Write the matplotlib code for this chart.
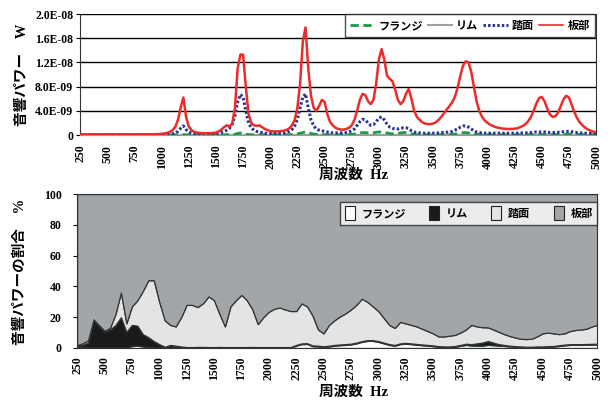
import numpy as np
import matplotlib
matplotlib.use("Agg")
import matplotlib.pyplot as plt
from matplotlib.patches import Patch
from matplotlib.lines import Line2D

plt.rcParams['font.family'] = ['Liberation Serif', 'Noto Sans CJK JP', 'DejaVu Sans']

# ---- sound power spectrum, 25 Hz steps, unit 1E-09 W ----
freq = np.arange(250, 5001, 25)

plate_w = [
    0.1, 0.1, 0.1, 0.1, 0.1, 0.1, 0.1, 0.1, 0.1, 0.1,          # 250
    0.1, 0.1, 0.1, 0.1, 0.1, 0.1, 0.1, 0.1, 0.1, 0.1,          # 500
    0.1, 0.1, 0.1, 0.1, 0.1, 0.1, 0.12, 0.12, 0.15, 0.15,      # 750
    0.2, 0.25, 0.35, 0.5, 0.8, 1.3, 2.5, 4.5, 6.2, 3.0,        # 1000
    1.4, 0.8, 0.5, 0.4, 0.35, 0.3, 0.3, 0.3, 0.3, 0.35,        # 1250
    0.4, 0.6, 0.9, 1.3, 1.6, 1.4, 1.9, 4.5, 11.0, 13.3,        # 1500
    13.3, 8.0, 3.5, 2.0, 1.6, 1.5, 1.6, 1.3, 1.0, 0.8,         # 1750
    0.65, 0.6, 0.6, 0.6, 0.65, 0.7, 0.85, 1.1, 1.6, 2.5,       # 2000
    4.5, 8.5, 15.5, 17.8, 11.0, 6.5, 4.5, 4.0, 4.8, 5.8,       # 2250
    5.5, 3.5, 2.2, 1.6, 1.2, 1.0, 0.9, 0.9, 1.0, 1.2,          # 2500
    1.6, 2.5, 4.0, 5.8, 6.8, 6.6, 5.6, 5.1, 5.8, 8.5,          # 2750
    12.5, 14.2, 12.5, 9.8, 9.3, 8.9, 7.5, 5.8, 5.1, 5.6,       # 3000
    6.8, 7.6, 6.0, 4.0, 3.0, 2.5, 2.1, 1.9, 1.8, 1.8,          # 3250
    1.9, 2.1, 2.5, 3.0, 3.6, 4.2, 4.8, 5.4, 6.3, 7.8,          # 3500
    9.8, 11.5, 12.2, 12.0, 10.5, 8.0, 5.5, 4.0, 3.0, 2.4,      # 3750
    2.0, 1.7, 1.5, 1.3, 1.2, 1.1, 1.05, 1.0, 1.0, 1.0,         # 4000
    1.05, 1.1, 1.3, 1.5, 1.8, 2.3, 3.0, 4.0, 5.2, 6.1,         # 4250
    6.3, 5.6, 4.4, 3.4, 3.0, 3.1, 3.7, 4.8, 5.9, 6.5,          # 4500
    6.2, 5.0, 3.8, 2.8, 2.1, 1.6, 1.2, 0.9, 0.7, 0.55,         # 4750
    0.45,                                                      # 5000
]

tread_w = [
    0.05, 0.05, 0.05, 0.05, 0.05, 0.05, 0.05, 0.05, 0.05, 0.05,
    0.05, 0.05, 0.05, 0.05, 0.05, 0.05, 0.05, 0.05, 0.05, 0.05,
    0.05, 0.05, 0.05, 0.05, 0.05, 0.05, 0.05, 0.05, 0.06, 0.07,
    0.08, 0.1, 0.12, 0.15, 0.2, 0.3, 0.6, 1.1, 1.5, 0.9,
    0.5, 0.3, 0.2, 0.15, 0.15, 0.15, 0.15, 0.15, 0.15, 0.15,
    0.2, 0.3, 0.45, 0.6, 0.8, 1.1, 1.8, 3.2, 5.5, 6.7,
    6.3, 4.0, 2.0, 1.2, 0.8, 0.6, 0.5, 0.4, 0.3, 0.25,
    0.25, 0.25, 0.25, 0.25, 0.25, 0.3, 0.4, 0.6, 0.9, 1.5,
    2.6, 4.5, 6.3, 6.8, 4.5, 2.5, 1.5, 1.0, 0.8, 0.7,
    0.6, 0.5, 0.4, 0.35, 0.35, 0.35, 0.35, 0.35, 0.4, 0.5,
    0.7, 1.0, 1.6, 2.2, 2.6, 2.5, 2.0, 1.6, 1.7, 2.2,
    2.8, 3.0, 2.5, 1.8, 1.3, 1.1, 1.0, 1.0, 1.1, 1.2,
    1.2, 1.0, 0.7, 0.5, 0.4, 0.35, 0.3, 0.3, 0.3, 0.3,
    0.3, 0.3, 0.35, 0.4, 0.4, 0.45, 0.5, 0.6, 0.8, 1.0,
    1.3, 1.5, 1.5, 1.3, 1.0, 0.7, 0.5, 0.4, 0.35, 0.3,
    0.3, 0.3, 0.3, 0.3, 0.3, 0.3, 0.3, 0.3, 0.3, 0.3,
    0.3, 0.3, 0.3, 0.35, 0.35, 0.4, 0.4, 0.45, 0.5, 0.5,
    0.5, 0.5, 0.45, 0.4, 0.4, 0.4, 0.45, 0.5, 0.55, 0.6,
    0.6, 0.55, 0.45, 0.4, 0.35, 0.3, 0.3, 0.25, 0.25, 0.2,
    0.2,
]

flange_w = [
    0.01, 0.01, 0.01, 0.01, 0.01, 0.01, 0.01, 0.01, 0.01, 0.01,
    0.01, 0.01, 0.01, 0.01, 0.01, 0.01, 0.01, 0.01, 0.01, 0.01,
    0.01, 0.01, 0.01, 0.01, 0.01, 0.01, 0.01, 0.01, 0.01, 0.01,
    0.01, 0.01, 0.01, 0.01, 0.02, 0.02, 0.03, 0.04, 0.05, 0.04,
    0.03, 0.02, 0.02, 0.02, 0.02, 0.02, 0.02, 0.02, 0.02, 0.02,
    0.02, 0.02, 0.03, 0.04, 0.05, 0.06, 0.08, 0.12, 0.25, 0.35,
    0.3, 0.15, 0.08, 0.05, 0.04, 0.03, 0.03, 0.03, 0.02, 0.02,
    0.02, 0.02, 0.02, 0.02, 0.02, 0.03, 0.04, 0.05, 0.08, 0.12,
    0.2, 0.3, 0.4, 0.5, 0.4, 0.25, 0.15, 0.1, 0.08, 0.06,
    0.05, 0.04, 0.03, 0.03, 0.03, 0.03, 0.03, 0.04, 0.05, 0.07,
    0.1, 0.15, 0.25, 0.35, 0.4, 0.4, 0.35, 0.3, 0.35, 0.45,
    0.5, 0.5, 0.45, 0.35, 0.25, 0.2, 0.2, 0.25, 0.35, 0.4,
    0.4, 0.3, 0.2, 0.1, 0.06, 0.05, 0.04, 0.03, 0.03, 0.03,
    0.03, 0.03, 0.03, 0.04, 0.05, 0.06, 0.08, 0.1, 0.15, 0.22,
    0.3, 0.38, 0.4, 0.35, 0.25, 0.15, 0.1, 0.07, 0.05, 0.04,
    0.03, 0.03, 0.03, 0.03, 0.03, 0.03, 0.03, 0.03, 0.03, 0.03,
    0.03, 0.03, 0.03, 0.03, 0.04, 0.04, 0.05, 0.06, 0.07, 0.08,
    0.08, 0.08, 0.07, 0.06, 0.06, 0.07, 0.08, 0.1, 0.12, 0.14,
    0.15, 0.13, 0.1, 0.08, 0.06, 0.05, 0.04, 0.04, 0.03, 0.03,
    0.03,
]

rim_w = [
    0.01, 0.01, 0.01, 0.02, 0.02, 0.02, 0.02, 0.02, 0.02, 0.02,
    0.02, 0.02, 0.02, 0.02, 0.02, 0.02, 0.02, 0.02, 0.02, 0.02,
    0.02, 0.02, 0.02, 0.02, 0.02, 0.02, 0.02, 0.01, 0.01, 0.01,
    0.01, 0.01, 0.01, 0.01, 0.01, 0.01, 0.01, 0.01, 0.01, 0.01,
    0.01, 0.01, 0.01, 0.01, 0.01, 0.01, 0.01, 0.01, 0.01, 0.01,
    0.01, 0.01, 0.01, 0.01, 0.01, 0.01, 0.01, 0.01, 0.01, 0.01,
    0.01, 0.01, 0.01, 0.01, 0.01, 0.01, 0.01, 0.01, 0.01, 0.01,
    0.01, 0.01, 0.01, 0.01, 0.01, 0.01, 0.01, 0.01, 0.01, 0.01,
    0.01, 0.01, 0.02, 0.02, 0.02, 0.01, 0.01, 0.01, 0.01, 0.01,
    0.01, 0.01, 0.01, 0.01, 0.01, 0.01, 0.01, 0.01, 0.01, 0.01,
    0.01, 0.01, 0.01, 0.01, 0.01, 0.01, 0.01, 0.01, 0.01, 0.01,
    0.01, 0.01, 0.01, 0.01, 0.01, 0.01, 0.01, 0.01, 0.01, 0.01,
    0.01, 0.01, 0.01, 0.01, 0.01, 0.01, 0.01, 0.01, 0.01, 0.01,
    0.01, 0.01, 0.01, 0.01, 0.01, 0.01, 0.01, 0.01, 0.01, 0.01,
    0.01, 0.01, 0.01, 0.01, 0.02, 0.02, 0.02, 0.02, 0.02, 0.02,
    0.02, 0.02, 0.01, 0.01, 0.01, 0.01, 0.01, 0.01, 0.01, 0.01,
    0.01, 0.01, 0.01, 0.01, 0.01, 0.01, 0.01, 0.01, 0.01, 0.01,
    0.01, 0.01, 0.01, 0.01, 0.01, 0.01, 0.01, 0.01, 0.01, 0.01,
    0.01, 0.01, 0.01, 0.01, 0.01, 0.01, 0.01, 0.01, 0.01, 0.01,
    0.01,
]

# ---- share of sound power, 50 Hz steps, % ----
freq_p = np.arange(250, 5001, 50)

flange_p = [
    0.5, 0.5, 0.5, 0.3, 0.3, 0.3, 0.3, 0.3, 0.3, 0.5,          # 250
    1.2, 1.5, 1.0, 0.5, 0.3, 0.3, 0.3, 0.5, 0.5, 0.3,          # 750
    0.3, 0.3, 0.3, 0.3, 0.3, 0.3, 0.3, 0.3, 0.3, 0.3,          # 1250
    0.3, 0.3, 0.3, 0.3, 0.3, 0.3, 0.3, 0.3, 0.3, 0.3,          # 1750
    1.5, 2.5, 2.6, 1.2, 1.0, 0.6, 1.0, 1.5, 1.8, 2.0,          # 2250
    2.3, 3.0, 4.0, 4.6, 4.6, 4.0, 3.0, 2.0, 1.5, 2.5,          # 2750
    2.8, 2.5, 2.1, 1.8, 1.5, 1.2, 0.8, 0.6, 0.6, 0.8,          # 3250
    1.4, 2.0, 1.6, 1.5, 1.5, 2.0, 1.8, 1.5, 1.3, 1.0,          # 3750
    0.8, 0.6, 0.5, 0.5, 0.6, 0.6, 0.8, 0.9, 1.3, 1.7,          # 4250
    2.0, 2.0, 2.0, 2.1, 2.2, 2.3,                              # 4750
]
rim_p = [
    1.0, 1.5, 3.0, 18.0, 14.0, 10.4, 11.7, 14.7, 19.7, 10.0,
    13.8, 13.0, 8.0, 6.5, 4.2, 2.2, 0.5, 1.5, 1.0, 0.7,
    0.3, 0.3, 0.4, 0.4, 0.3, 0.3, 0.4, 0.3, 0.3, 0.3,
    0.3, 0.3, 0.4, 0.3, 0.3, 0.3, 0.3, 0.3, 0.3, 0.3,
    0.5, 0.5, 0.5, 0.5, 0.5, 0.5, 0.5, 0.5, 0.5, 0.5,
    0.5, 0.5, 0.5, 0.5, 0.5, 0.5, 0.5, 0.5, 0.5, 0.5,
    0.5, 0.5, 0.5, 0.5, 0.5, 0.5, 0.4, 0.4, 0.4, 0.5,
    0.6, 0.8, 0.9, 1.5, 2.0, 2.5, 1.7, 1.0, 0.7, 0.5,
    0.4, 0.4, 0.3, 0.3, 0.4, 0.4, 0.4, 0.4, 0.5, 0.5,
    0.5, 0.5, 0.5, 0.5, 0.5, 0.5,
]
tread_p = [
    0.5, 1.0, 1.5, 0.3, 0.5, 0.5, 1.0, 7.0, 16.0, 5.5,
    12.0, 16.5, 28.0, 37.0, 39.5, 27.5, 17.2, 13.0, 12.5, 19.0,
    27.4, 27.4, 25.9, 28.4, 32.9, 30.4, 21.4, 13.4, 26.4, 30.4,
    33.9, 30.4, 24.4, 14.9, 19.4, 22.9, 24.9, 25.7, 24.4, 23.4,
    22.0, 26.0, 23.9, 19.3, 10.5, 8.4, 13.5, 16.0, 18.2, 20.0,
    22.2, 24.5, 27.5, 24.9, 21.9, 19.5, 16.0, 12.5, 11.0, 14.0,
    12.7, 12.0, 11.4, 10.2, 9.0, 7.8, 6.3, 6.5, 7.0, 7.2,
    8.0, 9.2, 12.5, 11.0, 10.0, 8.9, 8.5, 8.0, 7.0, 6.3,
    5.6, 5.0, 5.0, 5.2, 6.5, 8.5, 8.8, 8.2, 7.2, 7.3,
    8.5, 9.2, 9.5, 9.9, 11.3, 12.2,
]
plate_p = 100 - np.array(flange_p) - np.array(rim_p) - np.array(tread_p)

names = ['フランジ', 'リム', '踏面', '板部']
xticks = list(range(250, 5001, 250))
w_ticks = [0, 4e-9, 8e-9, 1.2e-8, 1.6e-8, 2e-8]
w_labels = ['0', '4.0E-09', '8.0E-09', '1.2E-08', '1.6E-08', '2.0E-08']
p_ticks = [0, 20, 40, 60, 80, 100]

tick_font = dict(family=['Liberation Serif'], weight='bold', size=8.5)
jp_font = dict(family=['Liberation Serif', 'Noto Sans CJK JP'], weight='bold', size=10.5)
leg_font = dict(family=['Noto Sans CJK JP'], weight='bold', size=8)

fig = plt.figure(figsize=(6.12, 4.03), dpi=100)

# ---------- upper: sound power ----------
ax1 = fig.add_axes([0.131, 0.665, 0.843, 0.300])
ax1.plot(freq, np.array(rim_w) * 1e-9, color='#a0a0a0', lw=1.5, zorder=3)
ax1.plot(freq, np.array(flange_w) * 1e-9, color='#1e9a48', lw=2.0,
         dashes=(3, 1.6), zorder=4)
ax1.plot(freq, np.array(tread_w) * 1e-9, color='#2a3592', lw=2.2,
         linestyle=(0, (0.8, 0.7)), zorder=5)
ax1.plot(freq, np.array(plate_w) * 1e-9, color='#ee2a2a', lw=1.8, zorder=6)

ax1.set_xlim(250, 5000)
ax1.set_ylim(0, 2e-8)
ax1.set_yticks(w_ticks)
ax1.set_yticklabels(w_labels, fontdict=tick_font)
ax1.set_xticks(xticks)
ax1.set_xticklabels([str(v) for v in xticks], fontdict=tick_font, rotation=90)
ax1.grid(axis='y', color='black', lw=1.0)
ax1.tick_params(axis='x', length=0, pad=7)
ax1.tick_params(axis='y', length=3, pad=2)
for side in ['left', 'right', 'top']:
    ax1.spines[side].set_color('#333333')
ax1.spines['top'].set_visible(False)
ax1.spines['bottom'].set_color('#999999')

line_handles = [
    Line2D([], [], color='#1e9a48', lw=2.0, dashes=(3, 1.6)),
    Line2D([], [], color='#a0a0a0', lw=1.5),
    Line2D([], [], color='#2a3592', lw=2.2, linestyle=(0, (0.8, 0.7))),
    Line2D([], [], color='#ee2a2a', lw=1.2),
]
leg1 = ax1.legend(line_handles, names, loc='upper right', ncol=4,
                  bbox_to_anchor=(0.997, 1.0), frameon=True, fancybox=False,
                  handlelength=2.2, handletextpad=0.35, columnspacing=0.45,
                  borderpad=0.45, borderaxespad=0.0, prop=leg_font)
leg1.get_frame().set_edgecolor('#222222')
leg1.get_frame().set_linewidth(1.0)

fig.text(0.036, 0.815, '音響パワー　W', rotation=90, ha='center', va='center', **jp_font)
fig.text(0.578, 0.566, '周波数  Hz', ha='center', va='center', **jp_font)

# ---------- lower: share of sound power ----------
ax2 = fig.add_axes([0.126, 0.1365, 0.850, 0.382])
colors = ['#ffffff', '#1a1a1a', '#e4e4e4', '#a3a6a9']
polys = ax2.stackplot(freq_p, flange_p, rim_p, tread_p, plate_p, colors=colors,
                      edgecolor='#333333', linewidth=0.9)
polys[0].set_edgecolor('#1d5a32')

ax2.set_xlim(250, 5000)
ax2.set_ylim(0, 100)
ax2.set_yticks(p_ticks)
ax2.set_yticklabels([str(v) for v in p_ticks], fontdict=tick_font)
ax2.set_xticks(xticks)
ax2.set_xticklabels([str(v) for v in xticks], fontdict=tick_font, rotation=90)
ax2.tick_params(axis='x', length=0, pad=6)
ax2.tick_params(axis='y', length=3, pad=8)
for side in ax2.spines:
    ax2.spines[side].set_color('#333333')

patch_handles = [Patch(facecolor=c, edgecolor='#222222', lw=0.8) for c in colors]
leg2 = ax2.legend(patch_handles, names, loc='upper right', ncol=4,
                  bbox_to_anchor=(0.9995, 0.95), frameon=True, fancybox=False,
                  handlelength=0.9, handleheight=1.6, handletextpad=0.6,
                  columnspacing=2.1, borderpad=0.4, borderaxespad=0.0,
                  prop=leg_font)
leg2.get_frame().set_edgecolor('#222222')
leg2.get_frame().set_linewidth(1.0)

fig.text(0.033, 0.325, '音響パワーの割合　%', rotation=90, ha='center', va='center', **jp_font)
fig.text(0.578, 0.027, '周波数  Hz', ha='center', va='center', **jp_font)

fig.savefig('out.png', dpi=100)
